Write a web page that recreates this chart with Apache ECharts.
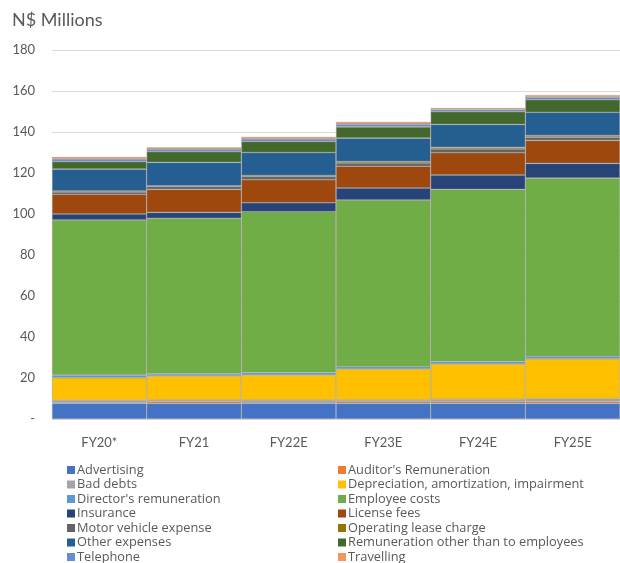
<!DOCTYPE html>
<html><head><meta charset="utf-8">
<script src="https://cdn.jsdelivr.net/npm/echarts@6/dist/echarts.min.js"></script>
<style>html,body{margin:0;padding:0;background:#fff}#c{width:620px;height:563px}</style>
</head><body><div id="c"></div>
<script>
var categories = ['FY20*', 'FY21', 'FY22E', 'FY23E', 'FY24E', 'FY25E'];
var yTicks = [0, 20, 40, 60, 80, 100, 120, 140, 160, 180];

var advertising   = [7.6, 7.6, 7.6, 7.6, 7.6, 7.6];
var auditors      = [0.4, 1.0, 0.3, 0.8, 0.8, 1.0];
var badDebts      = [1.2, 0.7, 1.4, 0.9, 1.2, 1.3];
var depreciation  = [10.9, 11.7, 12.2, 15.1, 17.2, 19.5];
var directors     = [1.3, 1.0, 1.1, 1.1, 1.2, 1.2];
var employee      = [75.7, 75.9, 78.5, 81.3, 84.0, 86.9];
var insurance     = [2.9, 2.9, 4.4, 5.9, 7.0, 7.2];
var license       = [9.6, 11.2, 11.2, 10.6, 10.9, 11.2];
var motor         = [1.1, 1.5, 1.6, 1.6, 1.8, 1.6];
var opLease       = [0.5, 0.3, 0.5, 0.7, 0.8, 0.8];
var otherExp      = [10.7, 11.4, 11.2, 11.4, 11.2, 11.3];
var remOther      = [3.6, 5.2, 5.4, 5.5, 6.2, 6.1];
var telephone     = [1.3, 1.2, 1.2, 1.3, 1.0, 1.3];
var travelling    = [1.0, 0.9, 1.0, 1.1, 0.8, 1.0];

var seriesNames = ['Advertising', "Auditor's Remuneration", 'Bad debts', 'Depreciation, amortization, impairment',
  "Director's remuneration", 'Employee costs', 'Insurance', 'License fees', 'Motor vehicle expense',
  'Operating lease charge', 'Other expenses', 'Remuneration other than to employees', 'Telephone', 'Travelling'];
var seriesData = [advertising, auditors, badDebts, depreciation, directors, employee, insurance, license,
  motor, opLease, otherExp, remOther, telephone, travelling];
var colors = ['#4472C4', '#ED7D31', '#A5A5A5', '#FFC000', '#5B9BD5', '#70AD47', '#264478', '#9E480E',
  '#636363', '#997300', '#255E91', '#43682B', '#698ED0', '#F1975A'];

var font = 'Lato, "Open Sans", sans-serif';
var legendFont = '"Open Sans", Lato, sans-serif';
var series = seriesNames.map(function (n, i) {
  return {
    name: n, type: 'bar', stack: 'total', data: seriesData[i],
    barCategoryGap: '0%', barGap: '0%',
    itemStyle: { color: colors[i], borderColor: 'rgba(150,150,150,0.8)', borderWidth: 0.6 },
    emphasis: { disabled: true }
  };
});
var leftNames = seriesNames.filter(function (n, i) { return i % 2 === 0; });
var rightNames = seriesNames.filter(function (n, i) { return i % 2 === 1; });
function mkLegend(names, left) {
  return {
    data: names, orient: 'vertical', left: left, top: 463, height: 140, padding: 0,
    itemWidth: 8, itemHeight: 8, itemGap: 0.5, icon: 'rect', selectedMode: false,
    itemStyle: { borderWidth: 0 },
    textStyle: { fontFamily: legendFont, fontSize: 12.8, color: '#595959', lineHeight: 14, padding: [0, 0, 0, -3] }
  };
}
var chart = echarts.init(document.getElementById('c'), null, { renderer: 'canvas' });
chart.setOption({
  animation: false,
  color: colors,
  title: { text: 'N$ Millions', left: 7, top: 6, textStyle: { fontFamily: font, fontSize: 18, fontWeight: 'normal', color: '#595959' } },
  legend: [mkLegend(leftNames, 67), mkLegend(rightNames, 338)],
  grid: { left: 52, top: 50, width: 580, height: 369, containLabel: false },
  xAxis: {
    type: 'category', data: categories,
    axisLine: { lineStyle: { color: '#d9d9d9', width: 1 } },
    axisTick: { show: false },
    axisLabel: { fontFamily: font, fontSize: 13, color: '#595959', margin: 17 }
  },
  yAxis: {
    type: 'value', min: yTicks[0], max: yTicks[yTicks.length - 1], interval: 20,
    axisLine: { show: false }, axisTick: { show: false },
    splitLine: { lineStyle: { color: '#d9d9d9', width: 1 } },
    axisLabel: { fontFamily: font, fontSize: 13, color: '#595959', margin: 17,
      formatter: function (v) { return v === 0 ? '-' : String(v); } }
  },
  series: series
});
</script></body></html>
